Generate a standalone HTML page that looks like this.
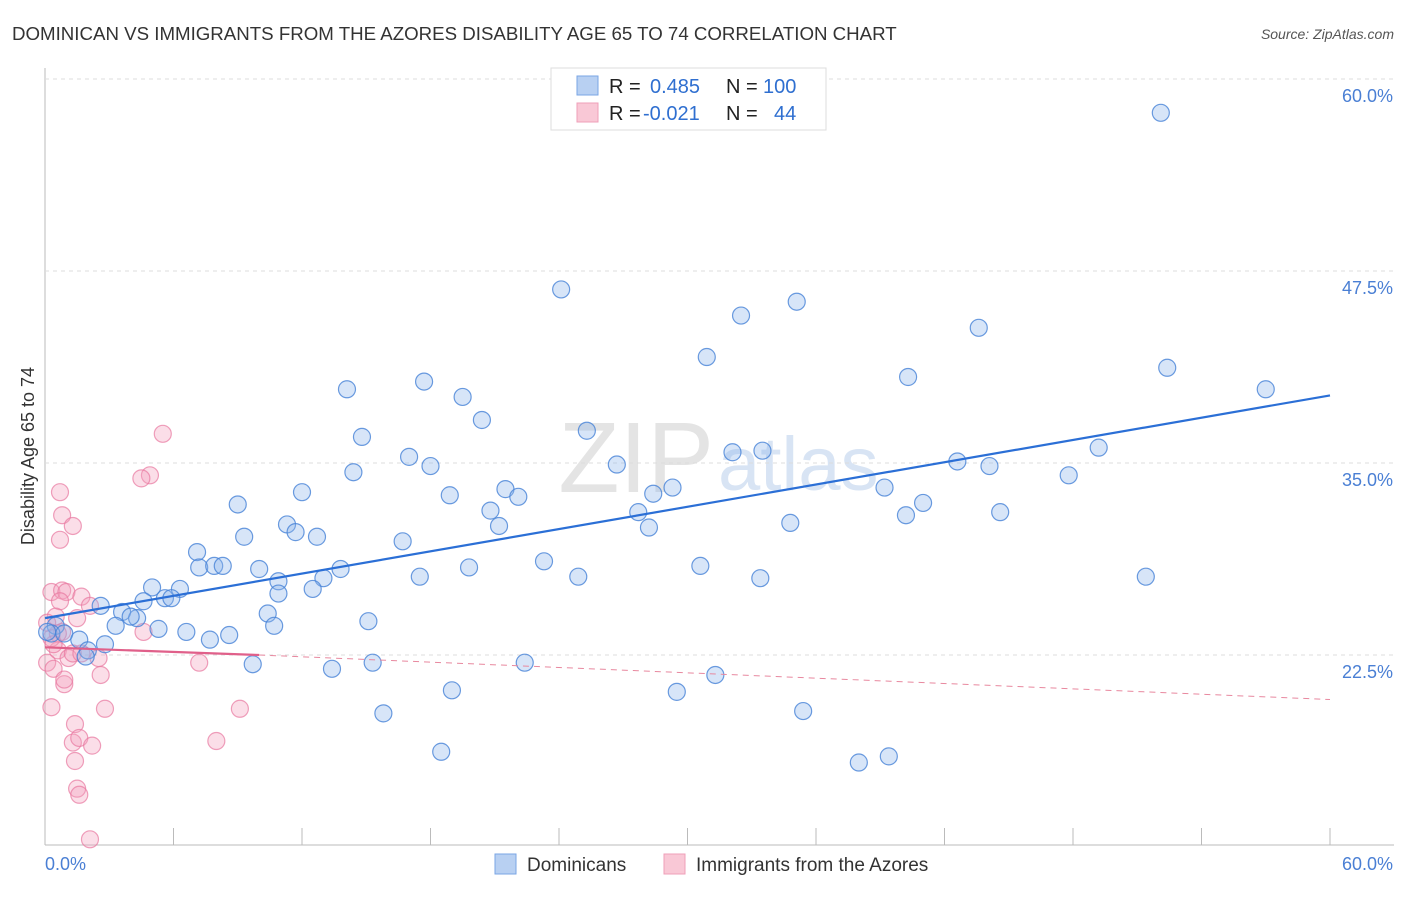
<!DOCTYPE html>
<html><head><meta charset="utf-8"><style>
body{margin:0;background:#fff;font-family:"Liberation Sans",sans-serif;}
svg text{font-family:"Liberation Sans",sans-serif;}
</style></head><body>
<svg id="c" width="1406" height="892">
<text x="12" y="40" font-size="18.7" fill="#333">DOMINICAN VS IMMIGRANTS FROM THE AZORES DISABILITY AGE 65 TO 74 CORRELATION CHART</text>
<text x="1394" y="39" font-size="14" fill="#555" font-style="italic" text-anchor="end">Source: ZipAtlas.com</text>
<text x="34" y="456" font-size="18" fill="#333" text-anchor="middle" transform="rotate(-90 34 456)">Disability Age 65 to 74</text>
<text x="714" y="492" font-size="100" fill="#e4e4e4" font-family="Liberation Serif" text-anchor="end">ZIP</text>
<text x="718" y="490" font-size="76" fill="#d8e4f4">atlas</text>
<g id="grid"></g><g id="marks"></g>
</svg>
<script>
const yTicks=[22.5,35,47.5,60];
const yTickLabels=["22.5%","35.0%","47.5%","60.0%"];
const blueX=[52.1,24.1,32.5,35.1,43.6,30.9,40.3,52.4,57.0,14.1,17.7,19.5,20.4,14.8,25.3,17.0,18.0,14.4,26.7,32.1,33.5,49.2,42.6,44.1,47.8,18.9,21.5,22.1,28.4,29.3,39.2,12.0,9.0,20.8,21.2,27.7,28.2,41.0,40.2,44.6,34.8,11.3,11.7,12.7,9.3,16.7,7.1,23.3,7.2,7.9,8.3,10.0,13.8,19.8,30.6,17.5,24.9,33.4,51.4,10.9,13.0,12.5,5.0,6.3,10.9,4.6,5.6,5.9,2.6,3.6,4.3,4.0,10.4,3.3,5.3,10.7,15.1,6.6,7.7,8.6,0.5,0.3,0.9,1.6,2.8,2.0,1.9,9.7,13.4,15.3,22.4,19.0,29.5,31.3,15.8,35.4,18.5,38.0,39.4,0.1];
const blueY=[57.8,46.3,44.6,45.5,43.8,41.9,40.6,41.2,39.8,39.8,40.3,39.3,37.8,36.7,37.1,35.4,34.8,34.4,34.9,35.7,35.8,36.0,35.1,34.8,34.2,32.9,33.3,32.8,33.0,33.4,33.4,33.1,32.3,31.9,30.9,31.8,30.8,32.4,31.6,31.8,31.1,31.0,30.5,30.2,30.2,29.9,29.2,28.6,28.2,28.3,28.3,28.1,28.1,28.2,28.3,27.6,27.6,27.5,27.6,27.3,27.5,26.8,26.9,26.8,26.5,26.0,26.2,26.2,25.7,25.3,24.9,25.0,25.2,24.4,24.2,24.4,24.7,24.0,23.5,23.8,24.4,23.9,23.9,23.5,23.2,22.8,22.4,21.9,21.6,22.0,22.0,20.2,20.1,21.2,18.7,18.85,16.2,15.5,15.9,24.0];
const pinkX=[5.5,4.9,4.5,0.7,0.8,1.3,0.7,0.3,0.8,1.0,1.7,0.7,2.1,1.5,0.5,0.8,4.6,0.6,1.1,2.5,1.3,1.7,0.1,0.4,0.9,0.9,2.6,7.2,0.3,2.8,9.1,1.4,1.3,1.6,2.2,1.4,8.0,1.5,1.6,2.1,0.1,0.3,0.6,0.4];
const pinkY=[36.9,34.2,34.0,33.1,31.6,30.9,30.0,26.6,26.7,26.6,26.3,26.0,25.7,24.9,25.0,24.0,24.0,22.8,22.3,22.3,22.6,22.6,22.0,21.6,20.6,20.9,21.2,22.0,19.1,19.0,19.0,18.0,16.8,17.1,16.6,15.6,16.9,13.8,13.4,10.5,24.6,23.6,23.9,23.2];
const blueTrend=[[0,24.9],[60,39.4]];
const pinkTrend=[[0,23.0],[10,22.5],[60,19.6]];
const NS="http://www.w3.org/2000/svg";
const X=v=>45+v*1285/60, Y=v=>1000.6-v*15.36;
function mk(t,a,p){const e=document.createElementNS(NS,t);for(const k in a)e.setAttribute(k,a[k]);(p||document.getElementById('marks')).appendChild(e);return e;}
const g=document.getElementById('grid');
let e=mk('line',{x1:45,y1:68,x2:45,y2:845,stroke:'#bbb'},g);

e=mk('line',{x1:45,y1:845,x2:1394,y2:845,stroke:'#bbb'},g);

for(let i=0;i<=10;i++){e=mk('line',{x1:X(i*6),y1:828,x2:X(i*6),y2:845,stroke:'#bbb'},g);
}
yTicks.forEach((v,i)=>{e=mk('line',{x1:45,x2:1394,y1:Y(v),y2:Y(v),stroke:'#ddd','stroke-dasharray':'4,4'},g);

e=mk('text',{x:1393,y:Y(v)+23,'font-size':18,fill:'#4a7fd4','text-anchor':'end'},g);e.textContent=yTickLabels[i];
});
e=mk('text',{x:45,y:870,'font-size':18,fill:'#4a7fd4'},g);e.textContent='0.0%';

e=mk('text',{x:1393,y:870,'font-size':18,fill:'#4a7fd4','text-anchor':'end'},g);e.textContent='60.0%';

pinkX.forEach((v,i)=>{e=mk('circle',{cx:X(v),cy:Y(pinkY[i]),r:8.5,fill:'rgba(244,160,190,0.35)',stroke:'rgba(232,120,160,0.7)','stroke-width':1.2});
});
blueX.forEach((v,i)=>{e=mk('circle',{cx:X(v),cy:Y(blueY[i]),r:8.5,fill:'rgba(140,180,235,0.35)',stroke:'rgba(70,130,215,0.8)','stroke-width':1.2});
});
e=mk('line',{x1:X(blueTrend[0][0]),y1:Y(blueTrend[0][1]),x2:X(blueTrend[1][0]),y2:Y(blueTrend[1][1]),stroke:'#2b6fd6','stroke-width':2.2});

e=mk('line',{x1:X(pinkTrend[0][0]),y1:Y(pinkTrend[0][1]),x2:X(pinkTrend[1][0]),y2:Y(pinkTrend[1][1]),stroke:'#e0608a','stroke-width':2.2});

e=mk('line',{x1:X(pinkTrend[1][0]),y1:Y(pinkTrend[1][1]),x2:X(pinkTrend[2][0]),y2:Y(pinkTrend[2][1]),stroke:'#e8889f','stroke-width':1,'stroke-dasharray':'6,5'});

</script>
<svg style="position:absolute;left:0;top:0" width="1406" height="892">
<g>
<rect x="551" y="68" width="275" height="62" fill="#fff" stroke="#ddd"/>
<rect x="577" y="76" width="21" height="19" fill="#b8d0f2" stroke="#7aa6e4"/>
<rect x="577" y="103" width="21" height="19" fill="#f9c8d6" stroke="#ef9fb8"/>
<text x="609" y="93" font-size="20" fill="#222">R = </text><text x="650" y="93" font-size="20" fill="#2f6fd0">0.485</text>
<text x="726" y="93" font-size="20" fill="#222">N = </text><text x="763" y="93" font-size="20" fill="#2f6fd0">100</text>
<text x="609" y="120" font-size="20" fill="#222">R = </text><text x="643" y="120" font-size="20" fill="#2f6fd0">-0.021</text>
<text x="726" y="120" font-size="20" fill="#222">N = </text><text x="774" y="120" font-size="20" fill="#2f6fd0">44</text>
</g>
<g>
<rect x="495" y="854" width="21" height="20" fill="#b8d0f2" stroke="#7aa6e4"/>
<text x="527" y="871" font-size="19" fill="#333">Dominicans</text>
<rect x="664" y="854" width="21" height="20" fill="#f9c8d6" stroke="#ef9fb8"/>
<text x="696" y="871" font-size="19" fill="#333">Immigrants from the Azores</text>
</g>
</svg>
</body></html>
